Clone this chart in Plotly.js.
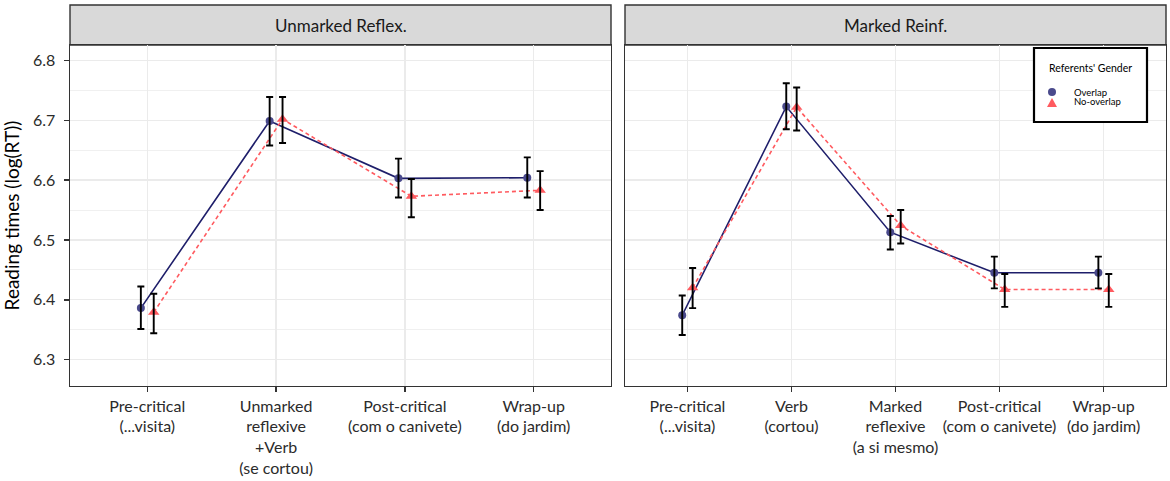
<!DOCTYPE html>
<html>
<head>
<meta charset="utf-8">
<script src="https://cdn.plot.ly/plotly-3.0.1.min.js"></script>
<style>html,body{margin:0;padding:0;background:#fff}#chart{width:1170px;height:481px}</style>
</head>
<body>
<div id="chart"></div>
<script>
// ---- data ----
const CATS_LEFT = ['Pre-critical<br>(...visita)', 'Unmarked<br>reflexive<br>+Verb<br>(se cortou)', 'Post-critical<br>(com o canivete)', 'Wrap-up<br>(do jardim)'];
const CATS_RIGHT = ['Pre-critical<br>(...visita)', 'Verb<br>(cortou)', 'Marked<br>reflexive<br>(a si mesmo)', 'Post-critical<br>(com o canivete)', 'Wrap-up<br>(do jardim)'];
const PANELS = ['Unmarked Reflex.', 'Marked Reinf.'];
const SERIES = ['Overlap', 'No-overlap'];
const LEGEND_TITLE = "Referents' Gender";

const LEFT_OVERLAP      = [6.386, 6.699, 6.603, 6.604];
const LEFT_OVERLAP_HI   = [6.422, 6.739, 6.636, 6.638];
const LEFT_OVERLAP_LO   = [6.351, 6.658, 6.571, 6.571];
const LEFT_NOOVERLAP    = [6.379, 6.702, 6.573, 6.583];
const LEFT_NOOVERLAP_HI = [6.410, 6.739, 6.602, 6.615];
const LEFT_NOOVERLAP_LO = [6.344, 6.662, 6.538, 6.550];

const RIGHT_OVERLAP      = [6.374, 6.723, 6.513, 6.445, 6.445];
const RIGHT_OVERLAP_HI   = [6.407, 6.762, 6.540, 6.472, 6.472];
const RIGHT_OVERLAP_LO   = [6.341, 6.685, 6.484, 6.419, 6.419];
const RIGHT_NOOVERLAP    = [6.420, 6.722, 6.524, 6.417, 6.417];
const RIGHT_NOOVERLAP_HI = [6.453, 6.755, 6.550, 6.443, 6.443];
const RIGHT_NOOVERLAP_LO = [6.386, 6.683, 6.494, 6.388, 6.388];

const Y_TICKS = [6.3, 6.4, 6.5, 6.6, 6.7, 6.8];

// ---- styling ----
const FONT = 'Lato, "Open Sans", sans-serif';
const DODGE = 0.05;
const C_OV_LINE = '#1e1e6a';
const C_OV_PT = '#4a4a8c';
const C_NO = '#ff5a5f';
const TXT = '#2b2b2b';

function pos(n, off) { return Array.from({length: n}, (_, i) => i + 1 + off); }
function diff(a, b) { return a.map((v, i) => v - b[i]); }

function seriesTraces(vals, hi, lo, off, xa, ya, isOverlap) {
  const x = pos(vals.length, off);
  const line = {
    x: x, y: vals, xaxis: xa, yaxis: ya, type: 'scatter', mode: 'lines+markers',
    showlegend: false, hoverinfo: 'skip',
    line: isOverlap ? {color: C_OV_LINE, width: 1.6} : {color: C_NO, width: 1.6, dash: '4px,3px'},
    marker: isOverlap ? {symbol: 'circle', size: 8, color: C_OV_PT} : {symbol: 'triangle-up', size: 10, color: C_NO}
  };
  const err = {
    x: x, y: vals, xaxis: xa, yaxis: ya, type: 'scatter', mode: 'markers',
    showlegend: false, hoverinfo: 'skip',
    marker: {size: 1, color: 'rgba(0,0,0,0)'},
    error_y: {type: 'data', symmetric: false, array: diff(hi, vals), arrayminus: diff(vals, lo),
              color: '#000000', thickness: 1.9, width: 3.5}
  };
  return [line, err];
}

const tL1 = seriesTraces(LEFT_OVERLAP, LEFT_OVERLAP_HI, LEFT_OVERLAP_LO, -DODGE, 'x', 'y', true);
const tL2 = seriesTraces(LEFT_NOOVERLAP, LEFT_NOOVERLAP_HI, LEFT_NOOVERLAP_LO, DODGE, 'x', 'y', false);
const tR1 = seriesTraces(RIGHT_OVERLAP, RIGHT_OVERLAP_HI, RIGHT_OVERLAP_LO, -DODGE, 'x2', 'y2', true);
const tR2 = seriesTraces(RIGHT_NOOVERLAP, RIGHT_NOOVERLAP_HI, RIGHT_NOOVERLAP_LO, DODGE, 'x2', 'y2', false);

const data = [tL1[0], tL2[0], tR1[0], tR2[0], tL1[1], tL2[1], tR1[1], tR2[1]];

const W = 1170, H = 481;
const M = {l: 70, r: 4, t: 45, b: 95};
const plotW = W - M.l - M.r;
const plotH = H - M.t - M.b;
const PANEL_W = 541, GAP_PX = 14;
const d1 = [0, PANEL_W / plotW];
const d2 = [(PANEL_W + GAP_PX) / plotW, 1];
const stripTop = 1 + 40 / plotH;
function px2x(px) { return (px - M.l) / plotW; }
function py2y(py) { return (H - M.b - py) / plotH; }

function xaxisDef(cats, domain) {
  return {
    domain: domain, range: [0.4, cats.length + 0.6],
    tickmode: 'array', tickvals: pos(cats.length, 0), ticktext: cats,
    ticks: 'outside', ticklen: 5, tickwidth: 1.5, tickcolor: '#333333',
    tickfont: {family: FONT, size: 16, color: TXT},
    showgrid: true, gridcolor: '#ebebeb', gridwidth: 1.5,
    showline: true, mirror: true, linecolor: '#333333', linewidth: 1.4,
    zeroline: false, fixedrange: true
  };
}
const yRange = [6.2557, 6.826];
const yaxisBase = {
  range: yRange, tickmode: 'array', tickvals: Y_TICKS,
  showgrid: true, gridcolor: '#ebebeb', gridwidth: 1.5,
  minor: {dtick: 0.05, tick0: 6.25, showgrid: true, gridcolor: '#f0f0f0', gridwidth: 1},
  showline: true, mirror: true, linecolor: '#333333', linewidth: 1.4,
  zeroline: false, fixedrange: true
};

// legend box geometry (pixels)
const LG = {x0: 1034, x1: 1147, y0: 48, y1: 122, titleY: 68, item1Y: 92, item2Y: 102, symX: 1052, textX: 1072};

const layout = {
  width: W, height: H, margin: M,
  paper_bgcolor: '#ffffff', plot_bgcolor: '#ffffff',
  font: {family: FONT, color: '#000'},
  showlegend: false,
  xaxis: xaxisDef(CATS_LEFT, d1),
  xaxis2: xaxisDef(CATS_RIGHT, d2),
  yaxis: Object.assign({}, yaxisBase, {
    ticks: 'outside', ticklen: 5, tickwidth: 1.6, tickcolor: '#333333', ticklabelstandoff: 5,
    tickformat: '.1f', tickfont: {family: FONT, size: 16, color: TXT},
    title: {text: 'Reading times (log(RT))', font: {family: FONT, size: 19, color: '#000'}, standoff: 8}
  }),
  yaxis2: Object.assign({}, yaxisBase, {anchor: 'x2', matches: 'y', showticklabels: false, ticks: ''}),
  shapes: [
    {type: 'rect', xref: 'paper', yref: 'paper', x0: d1[0], x1: d1[1], y0: 1, y1: stripTop,
     fillcolor: '#d9d9d9', line: {color: '#333333', width: 1.4}, layer: 'below'},
    {type: 'rect', xref: 'paper', yref: 'paper', x0: d2[0], x1: d2[1], y0: 1, y1: stripTop,
     fillcolor: '#d9d9d9', line: {color: '#333333', width: 1.4}, layer: 'below'},
    // legend box
    {type: 'rect', xref: 'paper', yref: 'paper', x0: px2x(LG.x0), x1: px2x(LG.x1), y0: py2y(LG.y1), y1: py2y(LG.y0),
     fillcolor: '#ffffff', line: {color: '#000000', width: 2.2}, layer: 'above'},
    {type: 'circle', xref: 'paper', yref: 'paper', xsizemode: 'pixel', ysizemode: 'pixel',
     xanchor: px2x(LG.symX), yanchor: py2y(LG.item1Y), x0: -4, x1: 4, y0: -4, y1: 4,
     fillcolor: C_OV_PT, line: {width: 0}, layer: 'above'},
    {type: 'path', xref: 'paper', yref: 'paper', xsizemode: 'pixel', ysizemode: 'pixel',
     xanchor: px2x(LG.symX), yanchor: py2y(LG.item2Y + 1),
     path: 'M -5,-4 L 5,-4 L 0,5 Z', fillcolor: C_NO, line: {width: 0}, layer: 'above'}
  ],
  annotations: [
    {xref: 'paper', yref: 'paper', x: (d1[0] + d1[1]) / 2, y: (1 + stripTop) / 2, text: PANELS[0],
     showarrow: false, xanchor: 'center', yanchor: 'middle', font: {family: FONT, size: 17, color: '#1a1a1a'}},
    {xref: 'paper', yref: 'paper', x: (d2[0] + d2[1]) / 2, y: (1 + stripTop) / 2, text: PANELS[1],
     showarrow: false, xanchor: 'center', yanchor: 'middle', font: {family: FONT, size: 17, color: '#1a1a1a'}},
    {xref: 'paper', yref: 'paper', x: px2x((LG.x0 + LG.x1) / 2), y: py2y(LG.titleY), text: LEGEND_TITLE,
     showarrow: false, xanchor: 'center', yanchor: 'middle', font: {family: FONT, size: 10.5, color: '#000'}},
    {xref: 'paper', yref: 'paper', x: px2x(LG.textX), y: py2y(LG.item1Y), text: SERIES[0],
     showarrow: false, xanchor: 'left', yanchor: 'middle', font: {family: FONT, size: 9.5, color: '#000'}},
    {xref: 'paper', yref: 'paper', x: px2x(LG.textX), y: py2y(LG.item2Y), text: SERIES[1],
     showarrow: false, xanchor: 'left', yanchor: 'middle', font: {family: FONT, size: 9.5, color: '#000'}}
  ]
};

Plotly.newPlot('chart', data, layout, {displayModeBar: false, staticPlot: true});
</script>
</body>
</html>
